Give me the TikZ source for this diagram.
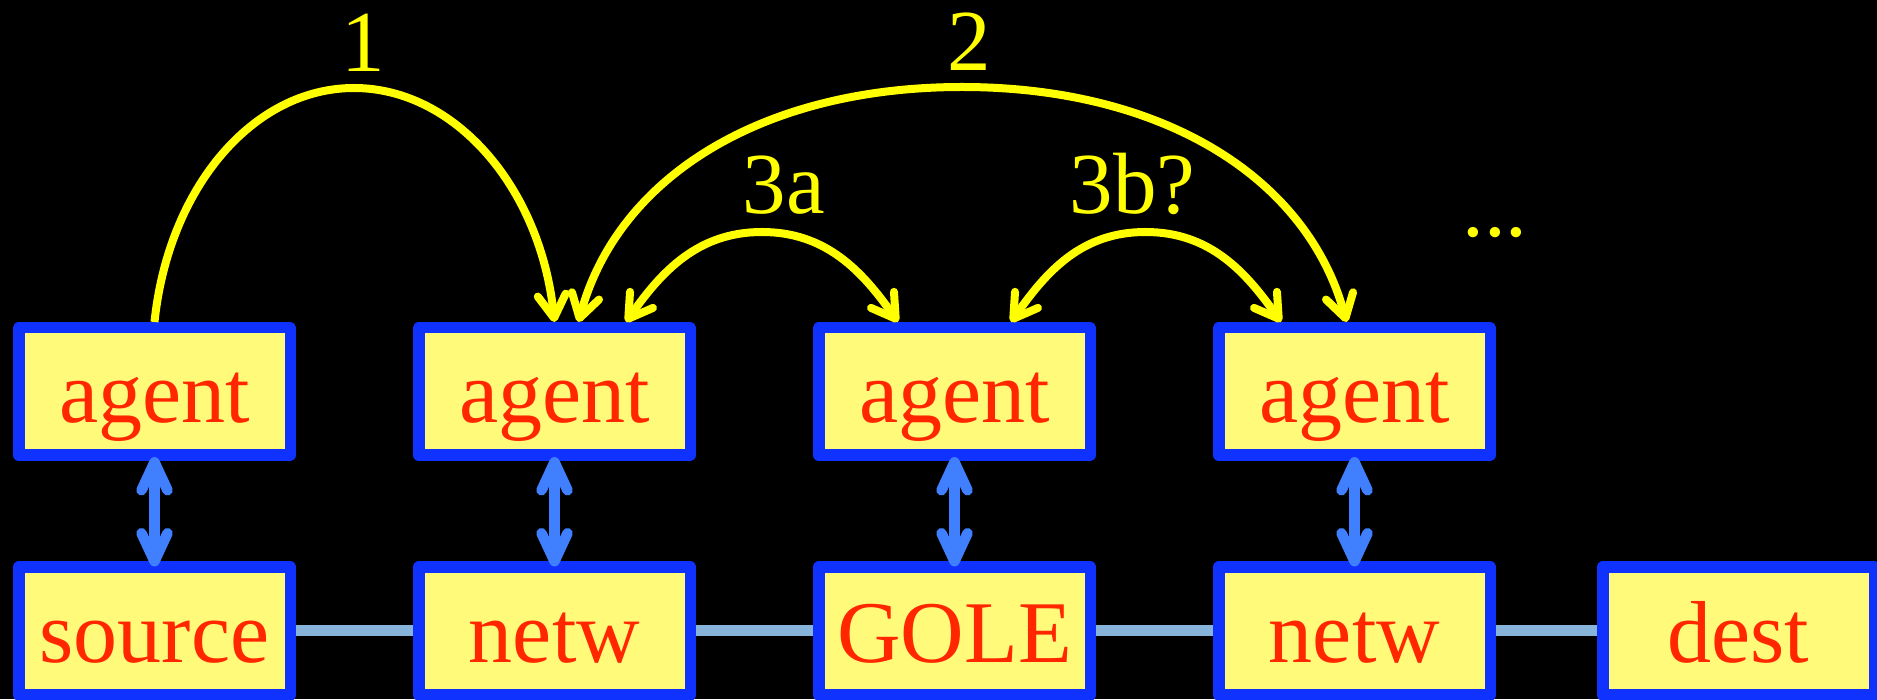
\documentclass[tikz,border=0pt]{standalone}
\usepackage{fontspec}
\setmainfont{Liberation Serif}
\usetikzlibrary{arrows.meta}

\definecolor{boxfill}{RGB}{255,250,122}
\definecolor{boxline}{RGB}{15,50,255}
\definecolor{boxtext}{RGB}{255,38,0}
\definecolor{msgyellow}{RGB}{255,255,0}
\definecolor{linkblue}{RGB}{64,128,255}
\definecolor{wireblue}{RGB}{136,180,220}

\begin{document}
\begin{tikzpicture}[x=1pt,y=1pt,
  unit/.style={draw=boxline, fill=boxfill, line width=11.5pt, line join=round,
    minimum width=271.5pt, minimum height=127.5pt, inner sep=0pt,
    text=boxtext, font=\fontsize{88}{90}\selectfont,
    text height=62pt, text depth=0pt},
  msgtext/.style={text=msgyellow, font=\fontsize{87}{90}\selectfont,
    inner sep=0pt, anchor=base},
  msg/.style={draw=msgyellow, line width=8pt,
    >={Straight Barb[length=23pt,width=28pt,round]}},
  updown/.style={draw=linkblue, line width=10.5pt, <->,
    >={Straight Barb[length=28pt,width=26pt,round]},
    shorten <=-4pt, shorten >=-5pt},
  wire/.style={draw=wireblue, line width=11pt}]

% canvas
\useasboundingbox (0,0) rectangle (1877,699);
\fill[black] (0,0) rectangle (1877,699);
\clip (0,0) rectangle (1877,699);

% agent row
\node[unit] (a1) at (154.5,307.5) {agent};
\node[unit] (a2) at (554.5,307.5) {agent};
\node[unit] (a3) at (954.5,307.5) {agent};
\node[unit] (a4) at (1354.5,307.5) {agent};

% network row
\node[unit] (src)  at (154.5,68) {source};
\node[unit] (nw1)  at (554.5,68) {netw};
\node[unit] (gole) at (954.5,68) {GOLE};
\node[unit] (nw2)  at (1354.5,68) {netw};
\node[unit] (dst)  at (1738.5,68) {dest};

% links along the path
\draw[wire] (src) -- (nw1);
\draw[wire] (nw1) -- (gole);
\draw[wire] (gole) -- (nw2);
\draw[wire] (nw2) -- (dst);

% agent <-> network element
\draw[updown] (a1) -- (src);
\draw[updown] (a2) -- (nw1);
\draw[updown] (a3) -- (gole);
\draw[updown] (a4) -- (nw2);

% apex points of the message arcs
\coordinate (p1)  at (354,611);
\coordinate (p2)  at (962,612);
\coordinate (p3a) at (762,467);
\coordinate (p3b) at (1145.5,467);

% message arcs
\draw[msg,->] (a1.north) .. controls +(14,135) and +(-100.5,0) .. (p1)
  .. controls +(100.5,0) and +(-14,135) .. (a2.north);
\draw[msg,<->] ([xshift=24pt]a2.north) .. controls +(38.8,144.9) and +(-200,0) .. (p2)
  .. controls +(200,0) and +(-38.8,144.9) .. ([xshift=-8pt]a4.north);
\draw[msg,<->] ([xshift=71.5pt]a2.north) .. controls +(35.6,50.8) and +(-64,0) .. (p3a)
  .. controls +(64,0) and +(-35.6,50.8) .. ([xshift=-56.5pt]a3.north);
\draw[msg,<->] ([xshift=56.5pt]a3.north) .. controls +(35.6,50.8) and +(-64,0) .. (p3b)
  .. controls +(64,0) and +(-35.6,50.8) .. ([xshift=-73.5pt]a4.north);

% step labels
\node[msgtext] (l1)   at (363,627)    {1};
\node[msgtext] (l2)   at (969,628)    {2};
\node[msgtext] (l3a)  at (784,485)    {3a};
\node[msgtext] (l3b)  at (1132.5,485) {3b?};
\node[msgtext] (more) at (1495,462)   {...};
\end{tikzpicture}
\end{document}
